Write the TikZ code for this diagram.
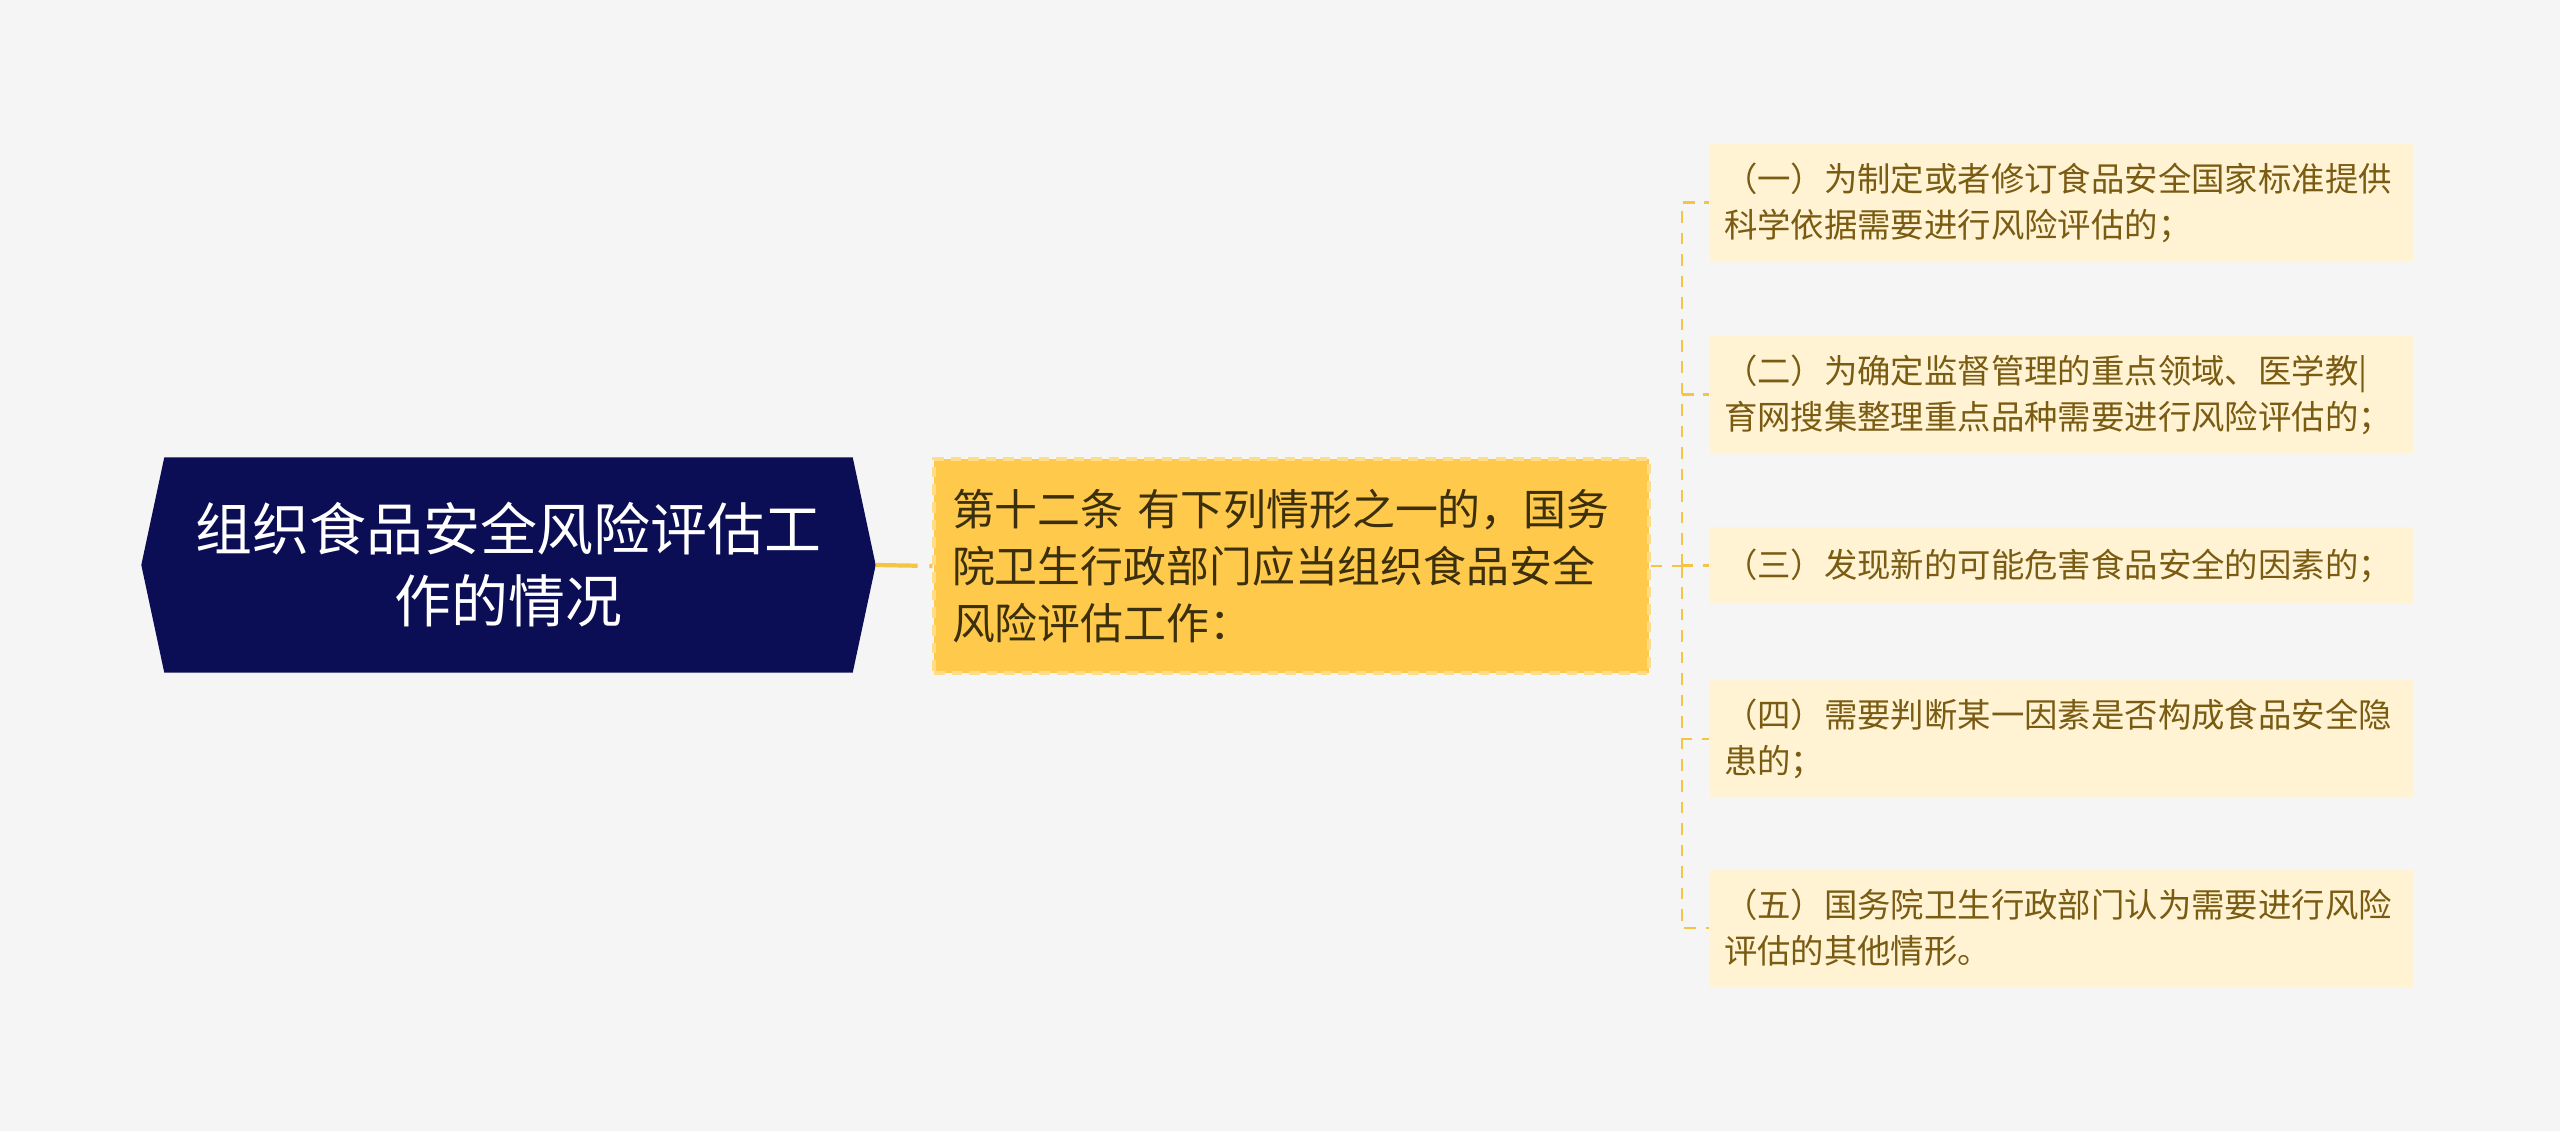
\documentclass[tikz,border=0pt]{standalone}
\usepackage{fontspec}
\setmainfont{Noto Sans CJK SC}
\usepackage{xcolor}
\usetikzlibrary{backgrounds}
\usetikzlibrary{calc}
\usetikzlibrary{positioning}

\definecolor{pagebg}{HTML}{F5F5F5}
\definecolor{rootblue}{HTML}{0C0E55}
\definecolor{midgold}{HTML}{FFC94B}
\definecolor{midedge}{HTML}{FFDD88}
\definecolor{midtext}{HTML}{3B2F0C}
\definecolor{leafcream}{HTML}{FFF3D4}
\definecolor{leaftext}{HTML}{7A5B12}
\definecolor{linegold}{HTML}{F6C445}

\tikzset{
  rootbox/.style={minimum width=6.87cm, minimum height=2.14cm, inner sep=0pt,
    text=white, align=center, font=\fontsize{16.2}{20.5}\selectfont},
  midbox/.style={fill=midgold, draw=midedge, dash pattern=on 3pt off 2pt, line width=0.9pt,
    minimum width=7.15cm, minimum height=2.14cm, text width=6.79cm, inner xsep=0.18cm,
    align=left, text=midtext, font=\fontsize{12.2}{16.2}\selectfont},
  leafbox/.style={fill=leafcream, minimum width=7.03cm, minimum height=1.17cm,
    text width=6.75cm, inner xsep=0.14cm, align=left, text=leaftext,
    font=\fontsize{9.5}{13.1}\selectfont},
  link/.style={draw=linegold, dash pattern=on 3.3pt off 2.8pt, line width=0.8pt},
  rootlink/.style={draw=linegold, dash pattern=on 11.9pt off 3.4pt, line width=1.2pt},
}

\begin{document}
\begin{tikzpicture}[x=1cm, y=1cm]
\useasboundingbox (0,0) rectangle (25.6,11.31);
\begin{scope}[on background layer]
  \fill[pagebg] (0,0) rectangle (25.6,11.31);
\end{scope}

%root
\node[rootbox] (root) at (5.085,5.66) {组织食品安全风险评估工\\作的情况};
\coordinate (rootTip) at ([xshift=0.23cm]root.east);
\coordinate (rootTail) at ([xshift=-0.23cm]root.west);
\begin{scope}[on background layer]
  \fill[rootblue] (root.north west) -- (root.north east) -- (rootTip)
    -- (root.south east) -- (root.south west) -- (rootTail) -- cycle;
\end{scope}

%article
\node[midbox] (mid) at (12.915,5.65) {第十二条 有下列情形之一的，国务\\院卫生行政部门应当组织食品安全\\风险评估工作：};

%cases
\node[leafbox] (leaf1) at (20.615,9.285) {（一）为制定或者修订食品安全国家标准提供\\科学依据需要进行风险评估的；};
\node[leafbox] (leaf2) at (20.615,7.365) {（二）为确定监督管理的重点领域、医学教|\\育网搜集整理重点品种需要进行风险评估的；};
\node[leafbox, minimum height=0.77cm] (leaf3) at (20.615,5.655) {（三）发现新的可能危害食品安全的因素的；};
\node[leafbox] (leaf4) at (20.615,3.92) {（四）需要判断某一因素是否构成食品安全隐\\患的；};
\node[leafbox] (leaf5) at (20.615,2.03) {（五）国务院卫生行政部门认为需要进行风险\\评估的其他情形。};

%links
\coordinate (trunk) at (16.82,5.65);
\draw[rootlink] (rootTip) -- (mid.west);
\draw[link] (mid.east) -- (trunk);
\foreach \i in {1,...,5} {
  \draw[link] (trunk) |- (leaf\i.west);
}
\end{tikzpicture}
\end{document}
